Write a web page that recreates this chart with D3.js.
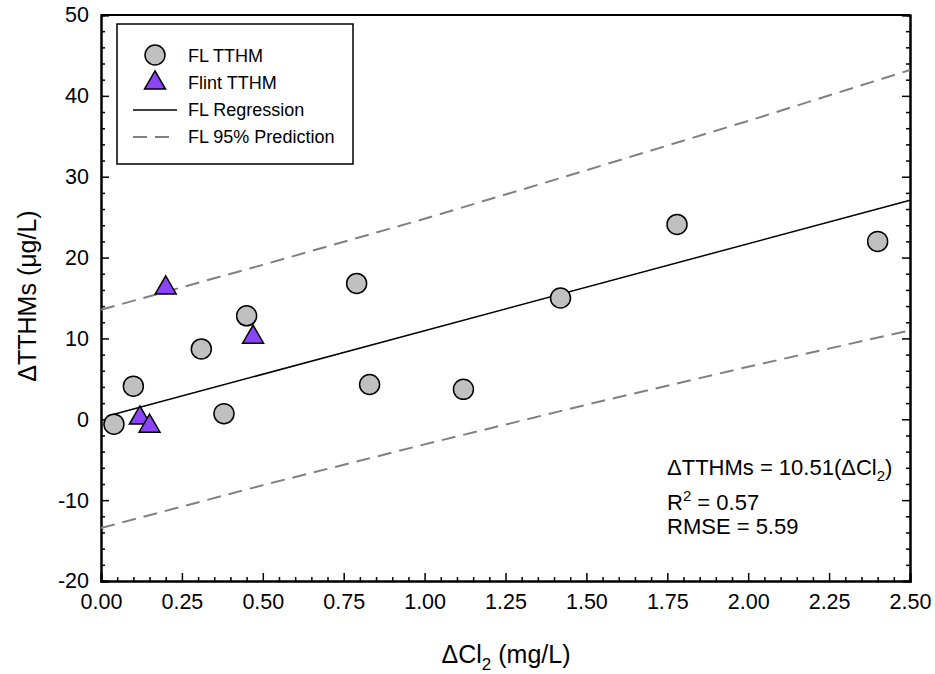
<!DOCTYPE html>
<html>
<head>
<meta charset="utf-8">
<script src="https://cdn.jsdelivr.net/npm/d3@7"></script>
<style>
  body { margin: 0; background: #fff; }
  text { font-family: Arial, "Liberation Sans", sans-serif; fill: #000; }
</style>
</head>
<body>
<svg id="chart" width="935" height="674"></svg>
<script>
// values
const flX = [0.04, 0.10, 0.31, 0.38, 0.45, 0.79, 0.83, 1.12, 1.42, 1.78, 2.40];
const flY = [-0.6, 4.1, 8.7, 0.7, 12.8, 16.8, 4.3, 3.7, 15.0, 24.1, 22.0];
const flintX = [0.12, 0.15, 0.20, 0.47];
const flintY = [0.4, -0.6, 16.5, 10.4];
const regX = [0.02, 2.50];
const regY = [0.4, 27.1];
const bandX = [0.0, 0.5, 1.0, 1.5, 2.0, 2.5];
const upperY = [13.55, 19.1, 24.8, 30.8, 36.9, 43.2];
const lowerY = [-13.45, -8.15, -3.1, 1.8, 6.5, 11.0];
const xTicks = [0, 0.25, 0.5, 0.75, 1.0, 1.25, 1.5, 1.75, 2.0, 2.25, 2.5];
const yTicks = [-20, -10, 0, 10, 20, 30, 40, 50];
const legendLabels = ["FL TTHM", "Flint TTHM", "FL Regression", "FL 95% Prediction"];

const svg = d3.select("#chart");
const plotL = 101, plotR = 910, plotT = 15, plotB = 581;

const x = d3.scaleLinear().domain([0, 2.5]).range([plotL, plotR]);
const y = d3.scaleLinear().domain([-20, 50]).range([plotB, plotT]);

const xMinor = d3.range(0, 2.5001, 0.05).filter(v => Math.abs(v / 0.25 - Math.round(v / 0.25)) > 1e-6);
const yMinor = d3.range(-20, 50.001, 2).filter(v => v % 10 != 0);

// frame top
svg.append("line").attr("x1", plotL).attr("x2", plotR).attr("y1", plotT).attr("y2", plotT)
  .attr("stroke", "#000").attr("stroke-width", 2);

// bottom axis
svg.append("g").attr("transform", `translate(0,${plotB})`)
  .call(d3.axisBottom(x).tickValues(xTicks).tickSize(-8).tickPadding(13).tickFormat(d3.format(".2f")));
svg.append("g").attr("transform", `translate(0,${plotB})`)
  .call(d3.axisBottom(x).tickValues(xMinor).tickSize(-4).tickFormat(""));

// left axis
svg.append("g").attr("transform", `translate(${plotL},0)`)
  .call(d3.axisLeft(y).tickValues(yTicks).tickSize(-8).tickPadding(12).tickFormat(d => String(d)));
svg.append("g").attr("transform", `translate(${plotL},0)`)
  .call(d3.axisLeft(y).tickValues(yMinor).tickSize(-4).tickFormat(""));

// right axis
svg.append("g").attr("transform", `translate(${plotR},0)`)
  .call(d3.axisRight(y).tickValues(yTicks).tickSize(-8).tickFormat(""));
svg.append("g").attr("transform", `translate(${plotR},0)`)
  .call(d3.axisRight(y).tickValues(yMinor).tickSize(-4).tickFormat(""));

svg.selectAll(".domain").attr("stroke", "#000").attr("stroke-width", 2);
svg.selectAll(".tick line").attr("stroke", "#000").attr("stroke-width", 1.5);
svg.selectAll(".tick text").style("font-size", "21.5px").style("font-family", "Arial, 'Liberation Sans', sans-serif").attr("fill", "#000");

// lines
const line = d3.line().x(d => x(d[0])).y(d => y(d[1]));
svg.append("path").datum(d3.zip(bandX, upperY)).attr("d", line)
  .attr("fill", "none").attr("stroke", "#808080").attr("stroke-width", 2).attr("stroke-dasharray", "14,8");
svg.append("path").datum(d3.zip(bandX, lowerY)).attr("d", line)
  .attr("fill", "none").attr("stroke", "#808080").attr("stroke-width", 2).attr("stroke-dasharray", "14,8");
svg.append("path").datum(d3.zip(regX, regY)).attr("d", line)
  .attr("fill", "none").attr("stroke", "#000").attr("stroke-width", 1.5);

// points
const tri = d3.symbol().type(d3.symbolTriangle).size(190);
svg.selectAll("circle.fl").data(d3.zip(flX, flY)).join("circle")
  .attr("class", "fl").attr("cx", d => x(d[0])).attr("cy", d => y(d[1])).attr("r", 10)
  .attr("fill", "#c0c0c0").attr("stroke", "#000").attr("stroke-width", 1.5);
svg.selectAll("path.flint").data(d3.zip(flintX, flintY)).join("path")
  .attr("class", "flint").attr("d", tri)
  .attr("transform", d => `translate(${x(d[0])},${y(d[1]) + 2})`)
  .attr("fill", "#8b44f7").attr("stroke", "#000").attr("stroke-width", 1.5);

// legend
const lg = svg.append("g");
lg.append("rect").attr("x", 117).attr("y", 24).attr("width", 236).attr("height", 140)
  .attr("fill", "#fff").attr("stroke", "#000").attr("stroke-width", 1.5);
lg.append("circle").attr("cx", 155).attr("cy", 55).attr("r", 10)
  .attr("fill", "#c0c0c0").attr("stroke", "#000").attr("stroke-width", 1.5);
lg.append("path").attr("d", tri).attr("transform", "translate(155,83)")
  .attr("fill", "#8b44f7").attr("stroke", "#000").attr("stroke-width", 1.5);
lg.append("line").attr("x1", 133).attr("x2", 177).attr("y1", 110).attr("y2", 110)
  .attr("stroke", "#000").attr("stroke-width", 1.5);
lg.append("line").attr("x1", 133).attr("x2", 177).attr("y1", 137).attr("y2", 137)
  .attr("stroke", "#808080").attr("stroke-width", 2).attr("stroke-dasharray", "14,8");
lg.selectAll("text").data(legendLabels).join("text")
  .attr("x", 188).attr("y", (d, i) => 62 + i * 27)
  .style("font-size", "18px").text(d => d);

// annotation
const ann = svg.append("g").style("font-size", "22px");
const t1 = ann.append("text").attr("x", 667).attr("y", 475);
t1.append("tspan").text("\u0394TTHMs = 10.51(\u0394Cl");
t1.append("tspan").attr("dy", 6).style("font-size", "15px").text("2");
t1.append("tspan").attr("dy", -6).text(")");
const t2 = ann.append("text").attr("x", 667).attr("y", 510);
t2.append("tspan").text("R");
t2.append("tspan").attr("dy", -9).style("font-size", "15px").text("2");
t2.append("tspan").attr("dy", 9).text(" = 0.57");
ann.append("text").attr("x", 667).attr("y", 534).text("RMSE = 5.59");

// axis titles
const xt = svg.append("text").attr("x", 506).attr("y", 663).attr("text-anchor", "middle")
  .style("font-size", "25px");
xt.append("tspan").text("\u0394Cl");
xt.append("tspan").attr("dy", 7).style("font-size", "17px").text("2");
xt.append("tspan").attr("dy", -7).text(" (mg/L)");
svg.append("text").attr("transform", "translate(36,296) rotate(-90)").attr("text-anchor", "middle")
  .style("font-size", "25px").text("\u0394TTHMs (\u03bcg/L)");
</script>
</body>
</html>
